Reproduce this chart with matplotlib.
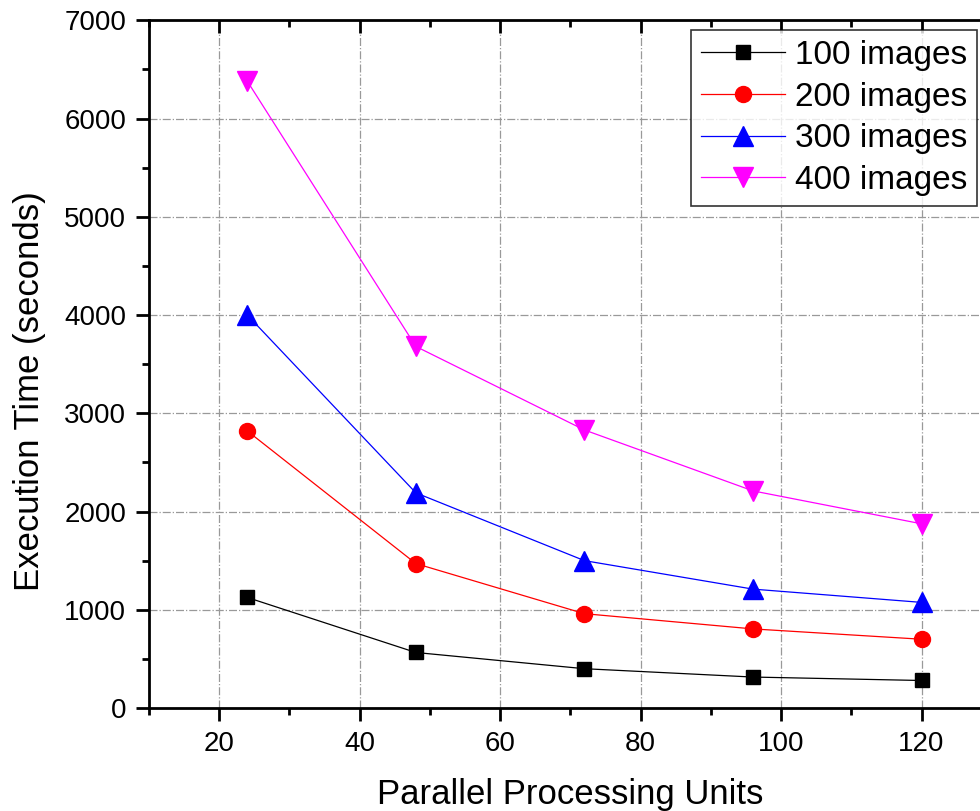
import numpy as np
import matplotlib.pyplot as plt
from matplotlib.ticker import MultipleLocator

plt.rcParams['font.family'] = ['Liberation Sans', 'DejaVu Sans']

units = [24, 48, 72, 96, 120]
t100 = [1125, 565, 400, 315, 280]
t200 = [2820, 1470, 960, 805, 700]
t300 = [4000, 2190, 1500, 1210, 1075]
t400 = [6380, 3680, 2830, 2210, 1875]

fig = plt.figure(figsize=(9.8, 8.11), dpi=100)
ax = fig.add_axes([0.152, 0.127, 0.86, 0.848])

ax.plot(units, t100, color='black', marker='s', markersize=10, lw=0.9, label='100 images')
ax.plot(units, t200, color='red', marker='o', markersize=11.5, lw=0.9, label='200 images')
ax.plot(units, t300, color='blue', marker='^', markersize=14, lw=0.9, label='300 images')
ax.plot(units, t400, color='magenta', marker='v', markersize=14, lw=0.9, label='400 images')

ax.set_xlim(10, 130)
ax.set_ylim(0, 7000)
ax.xaxis.set_major_locator(MultipleLocator(20))
ax.xaxis.set_minor_locator(MultipleLocator(10))
ax.yaxis.set_major_locator(MultipleLocator(1000))
ax.yaxis.set_minor_locator(MultipleLocator(500))

ax.grid(True, which='major', color='#999999', linestyle='-.', linewidth=0.9)
ax.set_axisbelow(True)

for s in ax.spines.values():
    s.set_linewidth(2)
ax.tick_params(axis='both', which='major', direction='out', length=9.5, width=2, pad=7)
ax.tick_params(axis='both', which='minor', direction='out', length=5, width=2)
ax.tick_params(axis='x', which='both', top=True)
ax.tick_params(axis='both', which='major', labelsize=20)

# top ticks pointing inward
for t in ax.xaxis.get_major_ticks() + ax.xaxis.get_minor_ticks():
    t.tick2line.set_marker(3)

ax.set_xlabel('Parallel Processing Units', fontsize=25, labelpad=15)
ax.set_ylabel('Execution Time (seconds)', fontsize=25)
ax.yaxis.set_label_coords(-0.122, 0.461)

leg = ax.legend(loc='upper right', bbox_to_anchor=(977/980, 1 - 30/811),
                bbox_transform=fig.transFigure, fontsize=24, frameon=True,
                fancybox=False, edgecolor='black', borderpad=0.3, labelspacing=0.32,
                handlelength=2.5, handletextpad=0.3, borderaxespad=0)
leg.get_frame().set_linewidth(1.2)

fig.savefig('out.png', dpi=100)
